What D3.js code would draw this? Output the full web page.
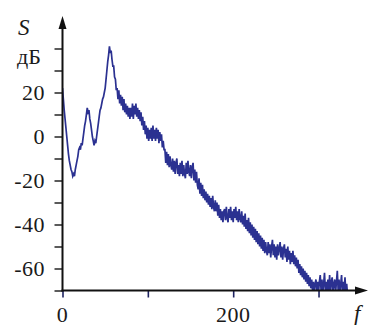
<!DOCTYPE html>
<html>
<head>
<meta charset="utf-8">
<script src="https://cdn.jsdelivr.net/npm/d3@7"></script>
<style>
  body { margin: 0; }
  #chart { position: relative; width: 369px; height: 325px; overflow: hidden; background: #fff; }
  #chart svg { position: absolute; left: 0; top: 0; display: block; }
  .lab { position: absolute; font-family: "Liberation Serif", "Times New Roman", serif;
         color: #1a1a1a; line-height: 1; white-space: nowrap; }
</style>
</head>
<body>
<div id="chart"></div>
<script>
// Spectrum level S (dB) sampled every 1 unit of f, starting at f = 0
const fStep = 1;
const spectrum = [
  22, 17, 12, 8, 4, 0, -4, -8, -11, -13,
  -15, -16, -18, -17, -18, -15, -13, -11, -9, -6,
  -5, -6, -3, -4, -1, 2, 5, 7, 10, 13,
  11, 12, 8, 6, 3, 0, -2, -4, -2, -3,
  0, 3, 6, 9, 12, 13, 15, 17, 18, 20,
  22, 26, 30, 34, 37, 41, 38, 39, 35, 32,
  32, 27, 26, 21, 22, 17, 21, 15, 19, 14,
  18, 12, 17, 11, 15, 10, 14, 9, 13, 8,
  13, 9, 15, 8, 14, 10, 15, 9, 13, 8,
  12, 7, 11, 5, 9, 3, 7, 1, 5, -1,
  4, -2, 3, -1, 4, -2, 5, -1, 3, -2,
  4, -1, 3, -3, 2, -2, 1, -5, -2, -6,
  -6, -12, -7, -13, -8, -14, -9, -13, -15, -10,
  -16, -11, -17, -12, -10, -17, -13, -18, -12, -17,
  -11, -18, -13, -17, -19, -12, -17, -11, -16, -18,
  -13, -19, -14, -12, -20, -15, -21, -16, -22, -24,
  -19, -26, -21, -27, -22, -28, -24, -29, -25, -30,
  -26, -31, -27, -32, -28, -33, -27, -32, -34, -29,
  -34, -30, -36, -31, -37, -33, -38, -34, -39, -34,
  -33, -38, -32, -37, -39, -33, -37, -32, -38, -34,
  -39, -33, -37, -32, -38, -34, -39, -33, -37, -39,
  -34, -40, -36, -41, -35, -42, -38, -43, -37, -44,
  -39, -45, -40, -46, -41, -47, -42, -48, -43, -49,
  -44, -50, -45, -51, -46, -52, -47, -53, -48, -52,
  -54, -48, -53, -49, -55, -50, -47, -54, -49, -55,
  -50, -56, -49, -54, -51, -48, -55, -50, -56, -51,
  -49, -55, -51, -57, -50, -56, -52, -58, -53, -57,
  -52, -58, -54, -59, -55, -60, -56, -62, -58, -63,
  -59, -64, -60, -65, -61, -66, -62, -67, -63, -68,
  -64, -69, -65, -70, -66, -71, -67, -65, -70, -66,
  -71, -66, -63, -70, -65, -71, -67, -62, -70, -66,
  -71, -65, -70, -63, -71, -66, -64, -71, -67, -65,
  -71, -66, -61, -70, -65, -71, -67, -63, -71, -66,
  -70, -64, -71, -67, -72, -73, -73
];

const xTicks = [0, 100, 200, 300];
const xTickLabels = ["0", "", "200", ""];
const yTicks = [-70, -60, -50, -40, -30, -20, -10, 0, 10, 20, 30, 40];
const yTickLabels = [-60, -40, -20, 0, 20];

const W = 369, H = 325;
const chart = d3.select("#chart");
const svg = chart.append("svg").attr("width", W).attr("height", H);

const x = d3.scaleLinear().domain([0, 350]).range([62.5, 361.2]);
const y = d3.scaleLinear().domain([-70, 40]).range([290.5, 48.5]);

const points = spectrum.map((v, i) => [i * fStep, v]);

// clip the trace to the plot area above the f axis
svg.append("clipPath").attr("id", "plot")
  .append("rect").attr("x", 62).attr("y", 10).attr("width", 300).attr("height", y(-70) - 10);

const line = d3.line().x(d => x(d[0])).y(d => y(d[1]));

svg.append("path")
  .datum(points)
  .attr("clip-path", "url(#plot)")
  .attr("fill", "none")
  .attr("stroke", "#2b3191")
  .attr("stroke-width", 1.7)
  .attr("stroke-linejoin", "miter")
  .attr("d", line);

// y axis ticks (left side)
const yAxis = d3.axisLeft(y).tickValues(yTicks).tickSize(8).tickFormat("");
const gy = svg.append("g").attr("transform", `translate(${x(0)},0)`).call(yAxis);
gy.select(".domain").remove();
gy.selectAll(".tick line").attr("stroke", "#333").attr("stroke-width", 1.6);

// x axis ticks (below)
const xAxis = d3.axisBottom(x).tickValues(xTicks).tickSize(7).tickFormat("");
const gx = svg.append("g").attr("transform", `translate(0,${y(-70)})`).call(xAxis);
gx.select(".domain").remove();
gx.selectAll(".tick line").attr("stroke", "#1d2260").attr("stroke-width", 1.6);

// axis lines with arrow heads
const x0 = x(0), yb = y(-70);
svg.append("line").attr("x1", x0).attr("x2", x0).attr("y1", yb + 1).attr("y2", 26)
  .attr("stroke", "#111").attr("stroke-width", 2);
svg.append("path").attr("d", `M${x0},16 L${x0 - 4},29 L${x0 + 4},29 Z`).attr("fill", "#111");

svg.append("line").attr("x1", x0 - 1).attr("x2", 358).attr("y1", yb).attr("y2", yb)
  .attr("stroke", "#111").attr("stroke-width", 2);
svg.append("path").attr("d", `M368,${yb} L355,${yb - 4} L355,${yb + 4} Z`).attr("fill", "#111");

// labels as positioned HTML text; baseline sits about 0.84 em below the box top
function place(text, px, baseline, size, anchor, italic) {
  const shift = anchor === "end" ? "-100%" : anchor === "middle" ? "-50%" : "0";
  chart.append("div").attr("class", "lab")
    .style("left", px + "px")
    .style("top", (baseline - 0.84 * size) + "px")
    .style("font-size", size + "px")
    .style("letter-spacing", anchor === "start" ? "0" : "0.5px")
    .style("font-style", italic ? "italic" : "normal")
    .style("transform", `translateX(${shift})`)
    .text(text);
}

yTickLabels.forEach(v => place(String(v), 45, y(v) + 7.5, 22, "end", false));
xTicks.forEach((v, i) => { if (xTickLabels[i]) place(xTickLabels[i], x(v), 322, 22, "middle", false); });
place("S", 18, 35, 23, "start", true);
place("дБ", 17, 64, 22, "start", false);
place("f", 354, 321, 23, "start", true);
</script>
</body>
</html>
